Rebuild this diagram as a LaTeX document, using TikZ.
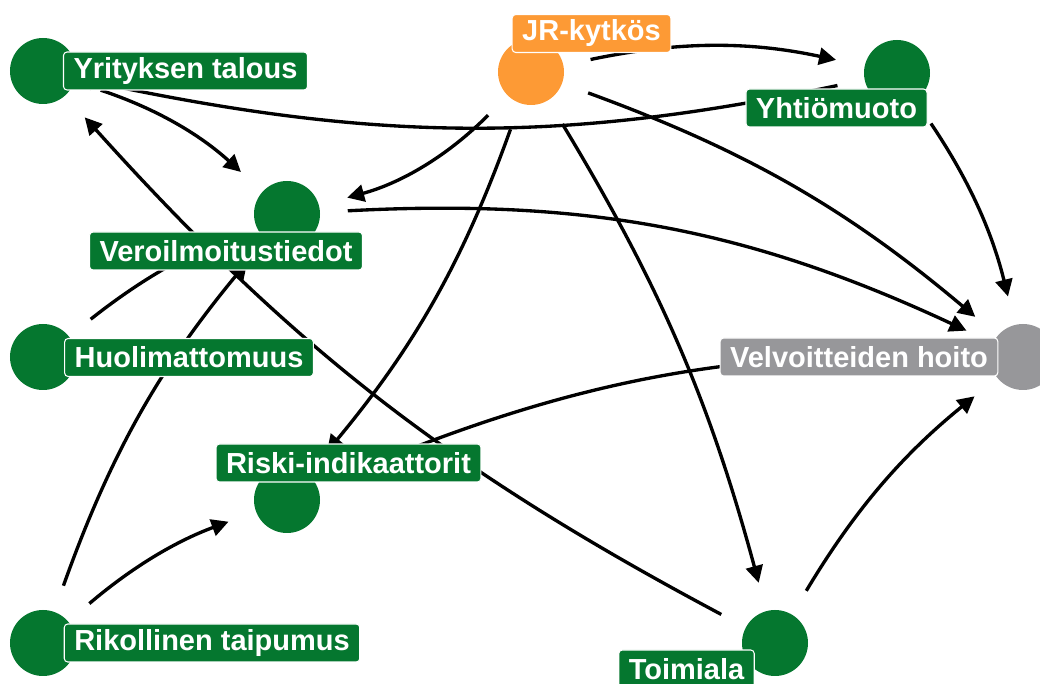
\documentclass[tikz,border=0pt]{standalone}
\usepackage{fontspec}
\setmainfont{Liberation Sans}
\usetikzlibrary{arrows.meta}
\definecolor{dagGreen}{HTML}{05772F}
\definecolor{dagOrange}{HTML}{FD9A35}
\definecolor{dagGrey}{HTML}{97979A}
\tikzset{
  vertex/.style={circle,minimum size=1.32cm,inner sep=0pt},
  vlabel/.style={rounded corners=2pt,draw=white,line width=0.6pt,text=white,
    font=\fontsize{16.5}{18}\selectfont\bfseries,inner xsep=0.2cm,inner ysep=0pt,
    minimum height=0.76cm},
  link/.style={line width=1.9pt,-{Triangle[length=0.34cm,width=0.34cm]},
    shorten <=0.55cm,shorten >=0.58cm}
}

\begin{document}
\begin{tikzpicture}
    \useasboundingbox (0,0) rectangle (20.8,13.68);
    \clip (0,0) rectangle (20.8,13.68);
    % vertices
    \node[vertex,fill=dagGreen] (yt) at (0.86,12.26) {};
    \node[vertex,fill=dagOrange] (jr) at (10.62,12.24) {};
    \node[vertex,fill=dagGreen] (ym) at (17.94,12.22) {};
    \node[vertex,fill=dagGreen] (vi) at (5.74,9.40) {};
    \node[vertex,fill=dagGreen] (hu) at (0.86,6.54) {};
    \node[vertex,fill=dagGrey] (vh) at (20.46,6.54) {};
    \node[vertex,fill=dagGreen] (ri) at (5.74,3.68) {};
    \node[vertex,fill=dagGreen] (rt) at (0.86,0.82) {};
    \node[vertex,fill=dagGreen] (to) at (15.50,0.82) {};
    % edges (all arcs bend the same way)
    \draw[link] (jr) to[bend left=12] (ym);
    \draw[link,shorten >=0pt] (ym) to[bend left=12] (yt); % tip hides under the label
    \draw[link] (yt) to[bend left=12] (vi);
    \draw[link] (jr) to[bend left=15] (vi);
    \draw[link] (vi) to[bend left=14] (vh);
    \draw[link] (jr) to[bend left=10] (vh);
    \draw[link] (ym) to[bend left=10] (vh);
    \draw[link] (to) to[bend left=10] (yt);
    \draw[link] (hu) to[bend left=8] (vi);
    \draw[link] (rt) to[bend left=10] (vi);
    \draw[link] (rt) to[bend left=10] (ri);
    \draw[link] (jr) to[bend left=10] (ri);
    \draw[link] (jr) to[bend left=8] (to);
    \draw[link] (to) to[bend left=10] (vh);
    \draw[link] (ri) to[bend left=12] (vh);
    % labels on top
    \node[vlabel,fill=dagGreen] (yt-lab) at (3.71,12.26) {Yrityksen talous};
    \node[vlabel,fill=dagOrange] (jr-lab) at (11.83,13.01) {JR-kytkös};
    \node[vlabel,fill=dagGreen] (ym-lab) at (16.73,11.52) {Yhtiömuoto};
    \node[vlabel,fill=dagGreen] (vi-lab) at (4.52,8.66) {Veroilmoitustiedot};
    \node[vlabel,fill=dagGreen] (hu-lab) at (3.78,6.53) {Huolimattomuus};
    \node[vlabel,fill=dagGrey] (vh-lab) at (17.18,6.54) {Velvoitteiden hoito};
    \node[vlabel,fill=dagGreen] (ri-lab) at (6.97,4.42) {Riski-indikaattorit};
    \node[vlabel,fill=dagGreen] (rt-lab) at (4.24,0.82) {Rikollinen taipumus};
    \node[vlabel,fill=dagGreen] (to-lab) at (13.73,0.30) {Toimiala};
\end{tikzpicture}
\end{document}
